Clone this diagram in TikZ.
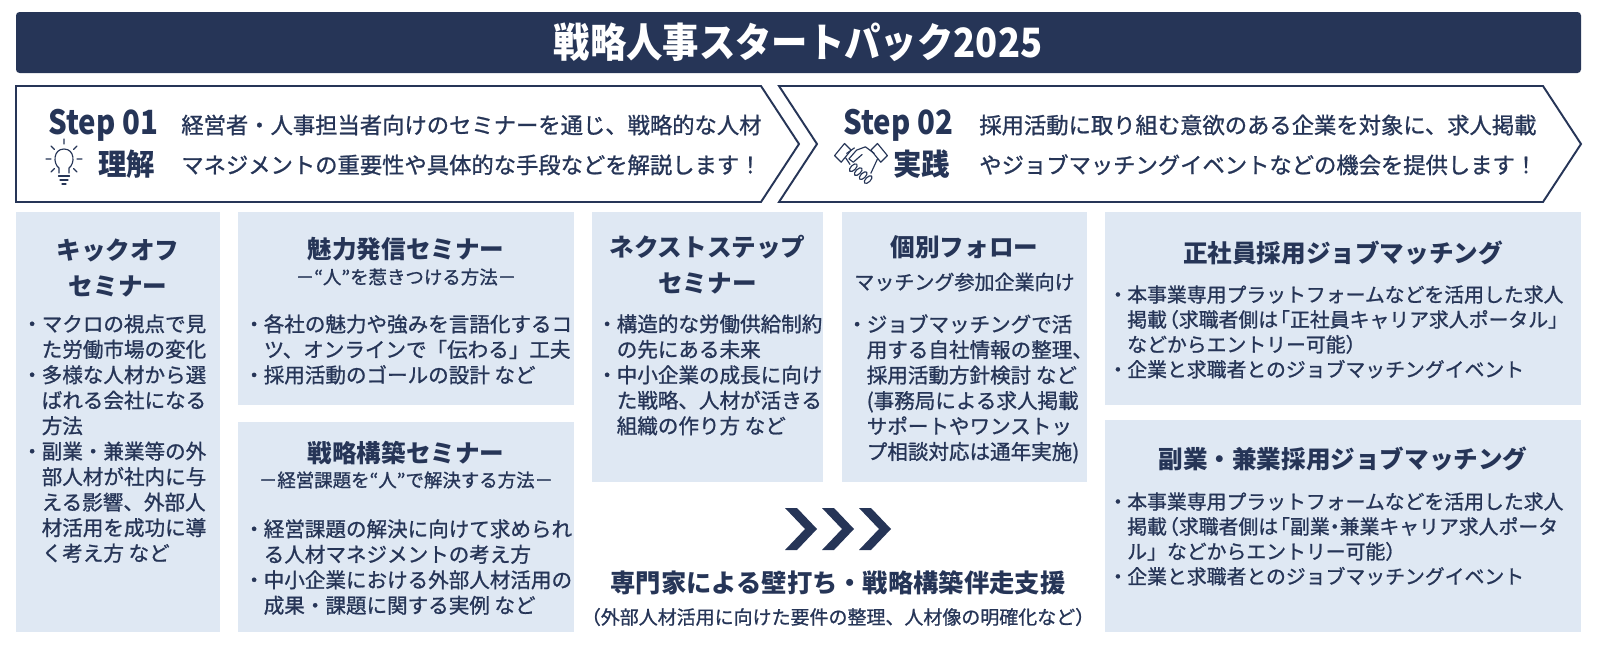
\documentclass[tikz,border=0pt]{standalone}
\usepackage{fontspec}
\usepackage{graphicx}
\setmainfont{Noto Sans CJK JP}[UprightFeatures={FakeBold=1}]
\definecolor{navy}{HTML}{263557}
\definecolor{pale}{HTML}{DFE8F3}
\newcommand\bul{\makebox[0.75em][l]{\hspace{-0.22em}・}}
\newcommand\ind{\hspace*{0.75em}}
\newcommand\narrow[1]{\scalebox{0.88}[1]{#1}}
\newcommand\tight{\hspace{-0.4em}}

\begin{document}
\begin{tikzpicture}[x=0.02cm,y=-0.02cm,
    card/.style={fill=pale},
    stepline/.style={draw=navy,line width=1.1pt,fill=white},
    icon/.style={draw=navy,line width=0.65pt,line cap=round,line join=round},
    steplabel/.style={text=navy,font=\bfseries\fontsize{19}{22}\selectfont,anchor=west,inner sep=0},
    stepword/.style={text=navy,font=\bfseries\fontsize{17}{20}\selectfont,anchor=west,inner sep=0},
    stepdesc/.style={text=navy,font=\fontsize{12.7}{22.7}\selectfont,align=left,anchor=west,inner sep=0},
    head/.style={text=navy,font=\bfseries\fontsize{14}{20.4}\selectfont,align=center,inner sep=0},
    subhead/.style={text=navy,font=\fontsize{10.5}{12}\selectfont,inner sep=0},
    body/.style={text=navy,font=\fontsize{11.7}{14.5}\selectfont,align=left,anchor=north west,inner sep=0},
    widebody/.style={body,font=\fontsize{11.3}{14.2}\selectfont}]
    \useasboundingbox (0,0) rectangle (1597,646);

    \fill[navy,rounded corners=2pt] (16,12) rectangle (1581,73);
    \node[text=white,font=\bfseries\fontsize{23}{26}\selectfont,inner sep=0] (title) at (798,42) {\scalebox{0.9}[1]{戦略人事スタートパック2025}};

    \draw[stepline] (16,86) -- (761,86) -- (799,144) -- (761,202) -- (16,202) -- cycle;
    \draw[stepline] (779,86) -- (1543,86) -- (1581,144) -- (1543,202) -- (779,202) -- (817,144) -- cycle;

    \node[steplabel] (step1) at (48,125) {\narrow{Step 01}};
    \node[stepword] (rikai) at (98,164) {\scalebox{0.95}[1]{理解}};
    \node[stepdesc] (step1text) at (181,145) {経営者・人事担当者向けのセミナーを通じ、戦略的な人材\\マネジメントの重要性や具体的な手段などを解説します！};
    \draw[icon] (59,173) -- (59,168) .. controls (53,164) and (53,149) .. (64,149) .. controls (75,149) and (75,164) .. (69,168) -- (69,173);
    \draw[icon] (58.5,176) -- (69.5,176) (60,180) -- (68,180) (62,184) -- (66,184);
    \draw[icon] (64,139) -- (64,144) (46,159) -- (51,159) (77,159) -- (82,159)
        (51,146) -- (54.5,149.5) (77,146) -- (73.5,149.5) (51,172) -- (54.5,168.5) (77,172) -- (73.5,168.5);

    \node[steplabel] (step2) at (843,125) {\narrow{Step 02}};
    \node[stepword] (jissen) at (893,164) {\scalebox{0.95}[1]{実践}};
    \node[stepdesc] (step2text) at (979,145) {採用活動に取り組む意欲のある企業を対象に、求人掲載\\やジョブマッチングイベントなどの機会を提供します！};
    \begin{scope}[shift={(861,160)},scale=1.1]
        \draw[icon] (-24,-4) -- (-15,-15) -- (-9,-9) -- (-18,2) -- cycle;
        \draw[icon] (24,-4) -- (15,-15) -- (9,-9) -- (18,2) -- cycle;
        \draw[icon] (12,-6) -- (4,-12) -- (-4,-9) -- (-11,-1) -- (-7,2) -- (1,-5);
        \draw[icon] (-13,-6) -- (-6,-11) (-14,-2) -- (-10,4) (15,-1) -- (9,12);
        \foreach \i in {0,1,2,3}
            \draw[icon,rotate around={-45:({-7+4.5*\i},{7+3.6*\i})}] ({-7+4.5*\i},{7+3.6*\i}) ellipse (2.2 and 4.5);
    \end{scope}

    \fill[card] (16,212) rectangle (220,632);
    \fill[card] (238,212) rectangle (574,405);
    \fill[card] (238,422) rectangle (574,632);
    \fill[card] (592,212) rectangle (823,482);
    \fill[card] (842,212) rectangle (1087,482);
    \fill[card] (1105,212) rectangle (1581,405);
    \fill[card] (1105,420) rectangle (1581,632);

    \node[head] (kickoff) at (118,268) {キックオフ\\セミナー};
    \node[body] (kickofftext) at (26,314) {\bul マクロの視点で見\\\ind た労働市場の変化\\\bul 多様な人材から選\\\ind ばれる会社になる\\\ind 方法\\\bul 副業・兼業等の外\\\ind 部人材が社内に与\\\ind える影響、外部人\\\ind 材活用を成功に導\\\ind く考え方 など};

    \node[head] (miryoku) at (406,249) {魅力発信セミナー};
    \node[subhead] (miryokusub) at (406,277) {－“人”を惹きつける方法－};
    \node[body] (miryokutext) at (248,314) {\bul 各社の魅力や強みを言語化するコ\\\ind ツ、オンラインで「伝わる」工夫\\\bul 採用活動のゴールの設計 など};

    \node[head] (senryaku) at (406,453) {戦略構築セミナー};
    \node[subhead] (senryakusub) at (406,480) {－経営課題を“人”で解決する方法－};
    \node[body] (senryakutext) at (248,519) {\bul 経営課題の解決に向けて求められ\\\ind る人材マネジメントの考え方\\\bul 中小企業における外部人材活用の\\\ind 成果・課題に関する実例 など};

    \node[head] (next) at (707.5,265) {ネクストステップ\\セミナー};
    \node[body] (nexttext) at (601,314) {\bul 構造的な労働供給制約\\\ind の先にある未来\\\bul 中小企業の成長に向け\\\ind た戦略、人材が活きる\\\ind 組織の作り方 など};

    \node[head] (follow) at (964.5,247) {個別フォロー};
    \node[subhead,font=\fontsize{11.4}{13}\selectfont] (followsub) at (964.5,282) {マッチング参加企業向け};
    \node[body] (followtext) at (851,314) {\bul ジョブマッチングで活\\\ind 用する自社情報の整理、\\\ind 採用活動方針検討 など\\\ind (事務局による求人掲載\\\ind サポートやワンストッ\\\ind プ相談対応は通年実施)};

    \node[head] (seishain) at (1343,253) {正社員採用ジョブマッチング};
    \node[widebody] (seishaintext) at (1112,285) {\bul 本事業専用プラットフォームなどを活用した求人\\\ind 掲載\tight（求職者側は\tight「正社員キャリア求人ポータル」\hspace{-0.5em}\\\ind などからエントリー可能）\\\bul 企業と求職者とのジョブマッチングイベント};

    \node[head] (fukugyo) at (1343,459) {副業・兼業採用ジョブマッチング};
    \node[widebody] (fukugyotext) at (1112,492) {\bul 本事業専用プラットフォームなどを活用した求人\\\ind 掲載\tight（求職者側は\tight「副業\hspace{-0.25em}・\hspace{-0.25em}兼業キャリア求人ポータ\\\ind ル」などからエントリー可能）\\\bul 企業と求職者とのジョブマッチングイベント};

    \foreach \x in {785,822,859}
        \fill[navy] (\x,508) -- ++(12,0) -- ++(20,21) -- ++(-20,21) -- ++(-12,0) -- ++(20,-21) -- cycle;
    \node[text=navy,font=\bfseries\fontsize{14.4}{17}\selectfont,inner sep=0] (support) at (838,583) {専門家による壁打ち・戦略構築伴走支援};
    \node[subhead,font=\fontsize{10.8}{13}\selectfont] (supportsub) at (838,617) {（外部人材活用に向けた要件の整理、人材像の明確化など）};
\end{tikzpicture}
\end{document}
